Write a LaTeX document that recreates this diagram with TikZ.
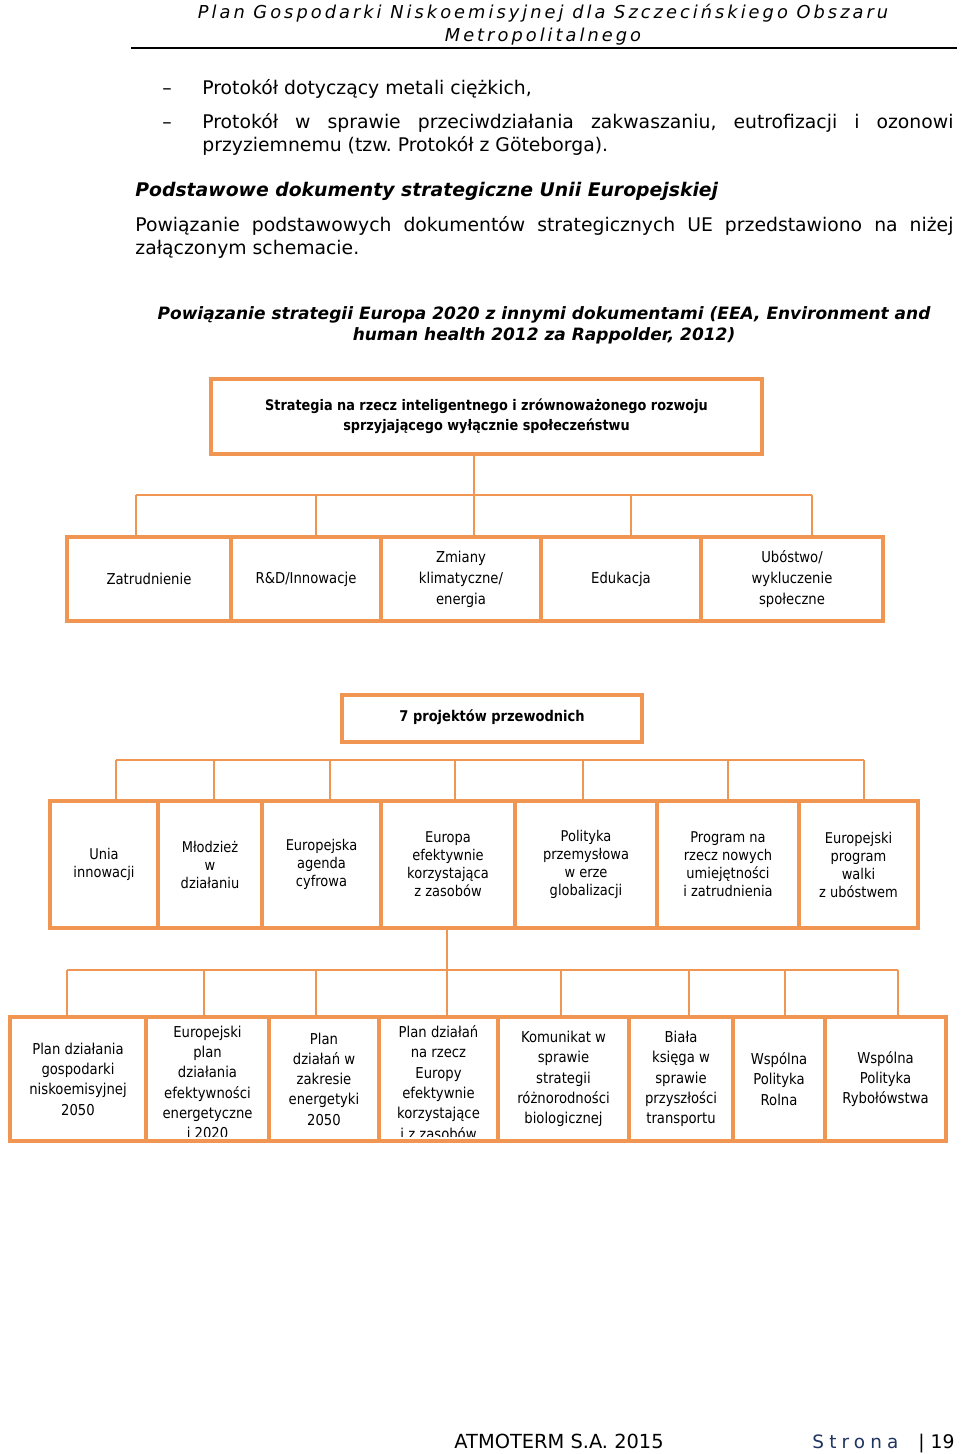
\documentclass[tikz,border=0pt]{standalone}
\usepackage{fontspec}
\setmainfont{DejaVu Sans}
\newfontfamily\polefont{DejaVu Sans}[FakeStretch=0.88]
\newfontfamily\naglowekfont{DejaVu Sans}[LetterSpace=17]
\newfontfamily\stronafont{DejaVu Sans}[LetterSpace=28]
\usepackage{tikz}
\usetikzlibrary{positioning}
\frenchspacing
\definecolor{pomarancz}{RGB}{240,150,82}
\definecolor{granat}{RGB}{31,52,96}
\tikzset{
  pole/.style={draw=pomarancz, line width=2pt, inner sep=0pt, outer sep=0pt, align=center},
  linia/.style={draw=pomarancz, line width=0.8pt},
  tekst/.style={inner sep=0pt, font=\fontsize{9.4}{11}\selectfont},
  rzad1/.style={pole, minimum height=42pt, font=\polefont\fontsize{7.5}{10.5}\selectfont},
  rzad2/.style={pole, minimum height=63.5pt, font=\polefont\fontsize{7.4}{9}\selectfont},
  rzad3/.style={pole, minimum height=62pt, font=\polefont\fontsize{7.5}{10.15}\selectfont},
}
\begin{document}
\begin{tikzpicture}[x=0.5pt,y=-0.5pt]
\useasboundingbox[fill=white] (0,0) rectangle (960,1454);
% naglowek strony
\node[inner sep=0pt, font=\naglowekfont\itshape\fontsize{8.9}{10}\selectfont] (nag1) at (543,13) {Plan Gospodarki Niskoemisyjnej dla Szczecińskiego Obszaru};
\node[inner sep=0pt, font=\naglowekfont\itshape\fontsize{8.9}{10}\selectfont] (nag2) at (543,37) {Metropolitalnego};
\draw[line width=1pt] (131,48) -- (957,48);
% tekst nad schematem
\node[tekst, anchor=mid] (kr1) at (167,89) {–};
\node[tekst, anchor=mid west] (p1) at (202,89) {Protokół dotyczący metali ciężkich,};
\node[tekst, anchor=mid] (kr2) at (167,123) {–};
\node[tekst, anchor=mid west] (p2) at (202,123) {\makebox[375.5pt][s]{Protokół w sprawie przeciwdziałania zakwaszaniu, eutrofizacji i ozonowi}};
\node[tekst, anchor=mid west] (p3) at (202,146) {przyziemnemu (tzw. Protokół z Göteborga).};
\node[tekst, anchor=mid west, font=\bfseries\itshape\fontsize{9.4}{11}\selectfont] (tyt) at (135,191) {Podstawowe dokumenty strategiczne Unii Europejskiej};
\node[tekst, anchor=mid west] (p4) at (135,226) {\makebox[409pt][s]{Powiązanie podstawowych dokumentów strategicznych UE przedstawiono na niżej}};
\node[tekst, anchor=mid west] (p5) at (135,249) {załączonym schemacie.};
\node[tekst, anchor=mid, font=\bfseries\itshape\fontsize{8.5}{10.5}\selectfont] (pod1) at (544,314) {Powiązanie strategii Europa 2020 z innymi dokumentami (EEA, Environment and};
\node[tekst, anchor=mid, font=\bfseries\itshape\fontsize{8.5}{10.5}\selectfont] (pod2) at (544,335) {human health 2012 za Rappolder, 2012)};
% strategia i priorytety
\node[pole, minimum width=275.5pt, minimum height=37.5pt, font=\polefont\bfseries\fontsize{7.3}{10}\selectfont] (strat) at (486.5,416.5) {Strategia na rzecz inteligentnego i zrównoważonego rozwoju\\sprzyjającego wyłącznie społeczeństwu};
\node[rzad1, minimum width=82pt] (zat) at (149,579) {Zatrudnienie};
\node[rzad1, minimum width=75pt] (rd) at (306,579) {R\&D/Innowacje};
\node[rzad1, minimum width=80pt] (klim) at (461,579) {Zmiany\\klimatyczne/\\energia};
\node[rzad1, minimum width=80pt] (edu) at (621,579) {Edukacja};
\node[rzad1, minimum width=91pt] (ubo) at (792,579) {Ubóstwo/\\wykluczenie\\społeczne};
\foreach \x [count=\i] in {136,316,474,631,812}
  \coordinate (s1-\i) at (\x,495);
\draw[linia] (s1-3 |- strat.south) -- (s1-3);
\draw[linia] (s1-1) -- (s1-5);
\foreach \i in {1,...,5}
  \draw[linia] (s1-\i) -- (s1-\i |- zat.north);
% projekty przewodnie
\node[pole, minimum width=150pt, minimum height=23.5pt, font=\polefont\bfseries\fontsize{7.4}{10}\selectfont] (proj) at (492,718.5) {\raisebox{2.5pt}{7 projektów przewodnich}};
\node[rzad2, minimum width=54pt] (unia) at (104,864.5) {Unia\\innowacji};
\node[rzad2, minimum width=52pt] (mlo) at (210,864.5) {Młodzież\\w\\działaniu};
\node[rzad2, minimum width=59.5pt] (agen) at (321.5,864.5) {Europejska\\agenda\\cyfrowa};
\node[rzad2, minimum width=67pt] (efek) at (448,864.5) {Europa\\efektywnie\\korzystająca\\z zasobów};
\node[rzad2, minimum width=71pt] (pol) at (586,864.5) {Polityka\\przemysłowa\\w erze\\globalizacji};
\node[rzad2, minimum width=71pt] (prog) at (728,864.5) {Program na\\rzecz nowych\\umiejętności\\i zatrudnienia};
\node[rzad2, minimum width=59.5pt] (wal) at (858.5,864.5) {Europejski\\program\\walki\\z ubóstwem};
\foreach \x [count=\i] in {116,214,330,455,583,728,864}
  \coordinate (s2-\i) at (\x,760);
\draw[linia] (s2-1) -- (s2-7);
\foreach \i in {1,...,7}
  \draw[linia] (s2-\i) -- (s2-\i |- unia.north);
% dokumenty szczegolowe
\node[rzad3, minimum width=68pt] (gosp) at (78,1079) {Plan działania\\gospodarki\\niskoemisyjnej\\2050};
\node[rzad3, minimum width=61.5pt] (eplan) at (207.5,1079) {};
\node[rzad3, minimum width=55pt] (ener) at (324,1079) {Plan\\działań w\\zakresie\\energetyki\\2050};
\node[rzad3, minimum width=59.5pt] (euro) at (438.5,1079) {};
\node[rzad3, minimum width=65.5pt] (kom) at (563.5,1079) {Komunikat w\\sprawie\\strategii\\różnorodności\\biologicznej};
\node[rzad3, minimum width=52pt] (bial) at (681,1079) {Biała\\księga w\\sprawie\\przyszłości\\transportu};
\node[rzad3, minimum width=46pt] (rol) at (779,1079) {Wspólna\\Polityka\\Rolna};
\node[rzad3, minimum width=60.5pt] (ryb) at (885.5,1079) {Wspólna\\Polityka\\Rybołówstwa};
\begin{scope}
  \clip ([yshift=2.5pt]eplan.south west) rectangle (eplan.north east);
  \node[align=center, inner sep=0pt, font=\polefont\fontsize{7.5}{10.15}\selectfont] (eplant) at (207.5,1082.5) {Europejski\\plan\\działania\\efektywności\\energetyczne\\i 2020};
\end{scope}
\begin{scope}
  \clip ([yshift=2.5pt]euro.south west) rectangle (euro.north east);
  \node[align=center, inner sep=0pt, font=\polefont\fontsize{7.5}{10.15}\selectfont] (eurot) at (438.5,1082.5) {Plan działań\\na rzecz\\Europy\\efektywnie\\korzystające\\i z zasobów};
\end{scope}
\foreach \x [count=\i] in {67,204,316,447,561,689,785,898}
  \coordinate (s3-\i) at (\x,970);
\draw[linia] (s3-4 |- efek.south) -- (s3-4);
\draw[linia] (s3-1) -- (s3-8);
\foreach \i in {1,...,8}
  \draw[linia] (s3-\i) -- (s3-\i |- gosp.north);
% stopka
\node[tekst, anchor=mid west, font=\fontsize{9.7}{11}\selectfont] (stop1) at (454,1443) {ATMOTERM S.A. 2015};
\node[tekst, anchor=mid west, font=\stronafont\fontsize{9.2}{11}\selectfont, text=granat] (stop2) at (812,1443) {Strona};
\node[tekst, anchor=mid east, font=\fontsize{9.4}{11}\selectfont] (stop3) at (955,1443) {| 19};
\end{tikzpicture}
\end{document}
